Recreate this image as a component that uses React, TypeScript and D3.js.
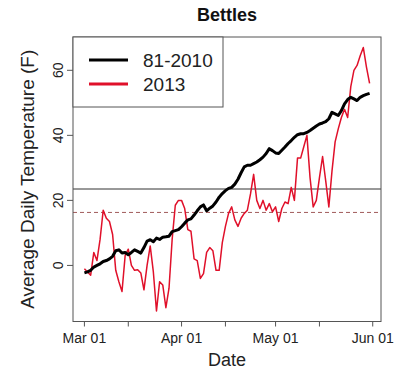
import React from "react";
import * as d3 from "d3";

// Daily average temperature (F) at Bettles, 1 Mar – 31 May
const startDay = Date.UTC(2013, 2, 1);
const normals8110 = [
  -2.3, -2, -1.5, -0.5, 0, 0.5, 1.2, 1.5, 2, 2.8,
  4.5, 4.8, 3.8, 4, 3.3, 4, 4.8, 4.3, 3.8, 5.5,
  7.5, 7.9, 7.3, 8.4, 8, 8.7, 8.8, 9, 10.4, 10.7,
  11, 11.9, 13, 14, 14.3, 15.5, 16.8, 18, 18.6, 16.8,
  17.6, 18.3, 19.5, 21, 22.1, 23, 23.7, 24, 25, 26.5,
  28.5, 30.3, 30.8, 30.8, 31.3, 31.8, 32.5, 33.3, 34.4, 35.9,
  35.3, 34.6, 34.4, 35.4, 36.4, 37.5, 38.4, 39.4, 40.2, 40.5,
  40.5, 40.9, 41.5, 42.2, 42.9, 43.5, 43.8, 44.2, 45.1, 47.1,
  46.6, 46.1, 47.6, 49.7, 51, 51.7, 51.2, 50.7, 51.7, 52.2,
  52.6, 52.9,
];
const temps2013 = [
  -1, -2, -3, 4, 1.5, 8, 17, 14.5, 13.5, 9.5,
  -1.5, -5, -8, 3, 5, 0, -1.5, -1.3, -2.3, -7.5,
  0, 6, -2, -14, -5, -6, -13, -7, 8, 18.5,
  20, 20, 17.5, 11, 10.5, 2, 1.5, -4, -2.5, 4,
  5.5, 4.5, -1.5, -1.5, 7, 12, 16, 18, 14, 12,
  14.5, 16, 17, 22, 28, 20, 17.5, 20, 17, 19,
  16.5, 18, 13.5, 17.5, 19.5, 19, 24, 20, 33, 33,
  36.5, 40, 27, 18, 20, 27, 33.5, 26, 18, 29,
  38, 42, 45.5, 48, 45.5, 55, 60, 61.5, 64.5, 67,
  61, 56,
];
const normalMean = 23.5;
const mean2013 = 16.3;

const majorTicks = [
  new Date(Date.UTC(2013, 2, 1)),
  new Date(Date.UTC(2013, 3, 1)),
  new Date(Date.UTC(2013, 4, 1)),
  new Date(Date.UTC(2013, 5, 1)),
];
const minorTicks = [
  new Date(Date.UTC(2013, 2, 15)),
  new Date(Date.UTC(2013, 3, 15)),
  new Date(Date.UTC(2013, 4, 15)),
];
const yTicks = [0, 20, 40, 60];
const legendLabels = ["81-2010", "2013"];

const W = 396;
const H = 373;
const plot = { left: 73, right: 381, top: 37, bottom: 321.5 };
const font = "'Liberation Sans', Arial, sans-serif";
const DAY = 86400000;

export default function App() {
  const dates = normals8110.map((_, i) => new Date(startDay + i * DAY));
  const t0 = +dates[0];
  const t1 = +dates[dates.length - 1];
  const padX = (t1 - t0) * 0.04;
  const x = d3
    .scaleUtc()
    .domain([new Date(t0 - padX), new Date(t1 + padX)])
    .range([plot.left, plot.right]);

  const all = normals8110.concat(temps2013);
  const [lo, hi] = d3.extent(all) as [number, number];
  const padY = (hi - lo) * 0.04;
  const y = d3
    .scaleLinear()
    .domain([lo - padY, hi + padY])
    .range([plot.bottom, plot.top]);

  const line = d3
    .line<number>()
    .x((_, i) => x(dates[i]))
    .y((d) => y(d));

  const fmt = d3.utcFormat("%b %d");
  const cx = (plot.left + plot.right) / 2;

  return (
    <svg
      width={W}
      height={H}
      style={{ position: "absolute", left: 0, top: 0, background: "#fff" }}
      fontFamily={font}
    >
      <text x={cx} y={21} textAnchor="middle" fontSize={18} fontWeight="bold" fill="#111">
        Bettles
      </text>

      {/* reference lines */}
      <line
        x1={plot.left}
        x2={plot.right}
        y1={y(normalMean)}
        y2={y(normalMean)}
        stroke="#333"
        strokeWidth={1}
      />
      <line
        x1={plot.left}
        x2={plot.right}
        y1={y(mean2013)}
        y2={y(mean2013)}
        stroke="#a05a5a"
        strokeWidth={1}
        strokeDasharray="4,3"
      />

      <path d={line(temps2013) || ""} fill="none" stroke="#e0102a" strokeWidth={1.5} strokeLinejoin="round" />
      <path d={line(normals8110) || ""} fill="none" stroke="#000" strokeWidth={3} strokeLinejoin="round" />

      {/* plot frame */}
      <rect
        x={plot.left}
        y={plot.top}
        width={plot.right - plot.left}
        height={plot.bottom - plot.top}
        fill="none"
        stroke="#555"
        strokeWidth={1}
      />

      {/* x axis */}
      <line x1={x(majorTicks[0])} x2={x(majorTicks[3])} y1={plot.bottom} y2={plot.bottom} stroke="#555" />
      {majorTicks.concat(minorTicks).map((d, i) => (
        <line key={i} x1={x(d)} x2={x(d)} y1={plot.bottom} y2={plot.bottom + 5} stroke="#555" />
      ))}
      {majorTicks.map((d, i) => (
        <text key={i} x={x(d)} y={343} textAnchor="middle" fontSize={14} fill="#222">
          {fmt(d)}
        </text>
      ))}
      <text x={cx} y={366} textAnchor="middle" fontSize={18} fill="#222">
        Date
      </text>

      {/* y axis */}
      {yTicks.map((v) => (
        <g key={v}>
          <line x1={plot.left - 6} x2={plot.left} y1={y(v)} y2={y(v)} stroke="#555" />
          <text
            transform={`translate(63,${y(v)}) rotate(-90)`}
            textAnchor="middle"
            fontSize={14}
            fill="#222"
          >
            {v}
          </text>
        </g>
      ))}
      <text
        transform={`translate(34,${(plot.top + plot.bottom) / 2}) rotate(-90)`}
        textAnchor="middle"
        fontSize={19}
        fill="#222"
      >
        Average Daily Temperature (F)
      </text>

      {/* legend */}
      <rect x={plot.left} y={plot.top} width={150} height={70} fill="#fff" stroke="#555" />
      {legendLabels.map((lab, i) => (
        <g key={lab}>
          <line
            x1={89}
            x2={128}
            y1={60 + i * 24}
            y2={60 + i * 24}
            stroke={i === 0 ? "#000" : "#e0102a"}
            strokeWidth={3}
          />
          <text x={143} y={67 + i * 24} fontSize={19} fill="#222">
            {lab}
          </text>
        </g>
      ))}
    </svg>
  );
}
